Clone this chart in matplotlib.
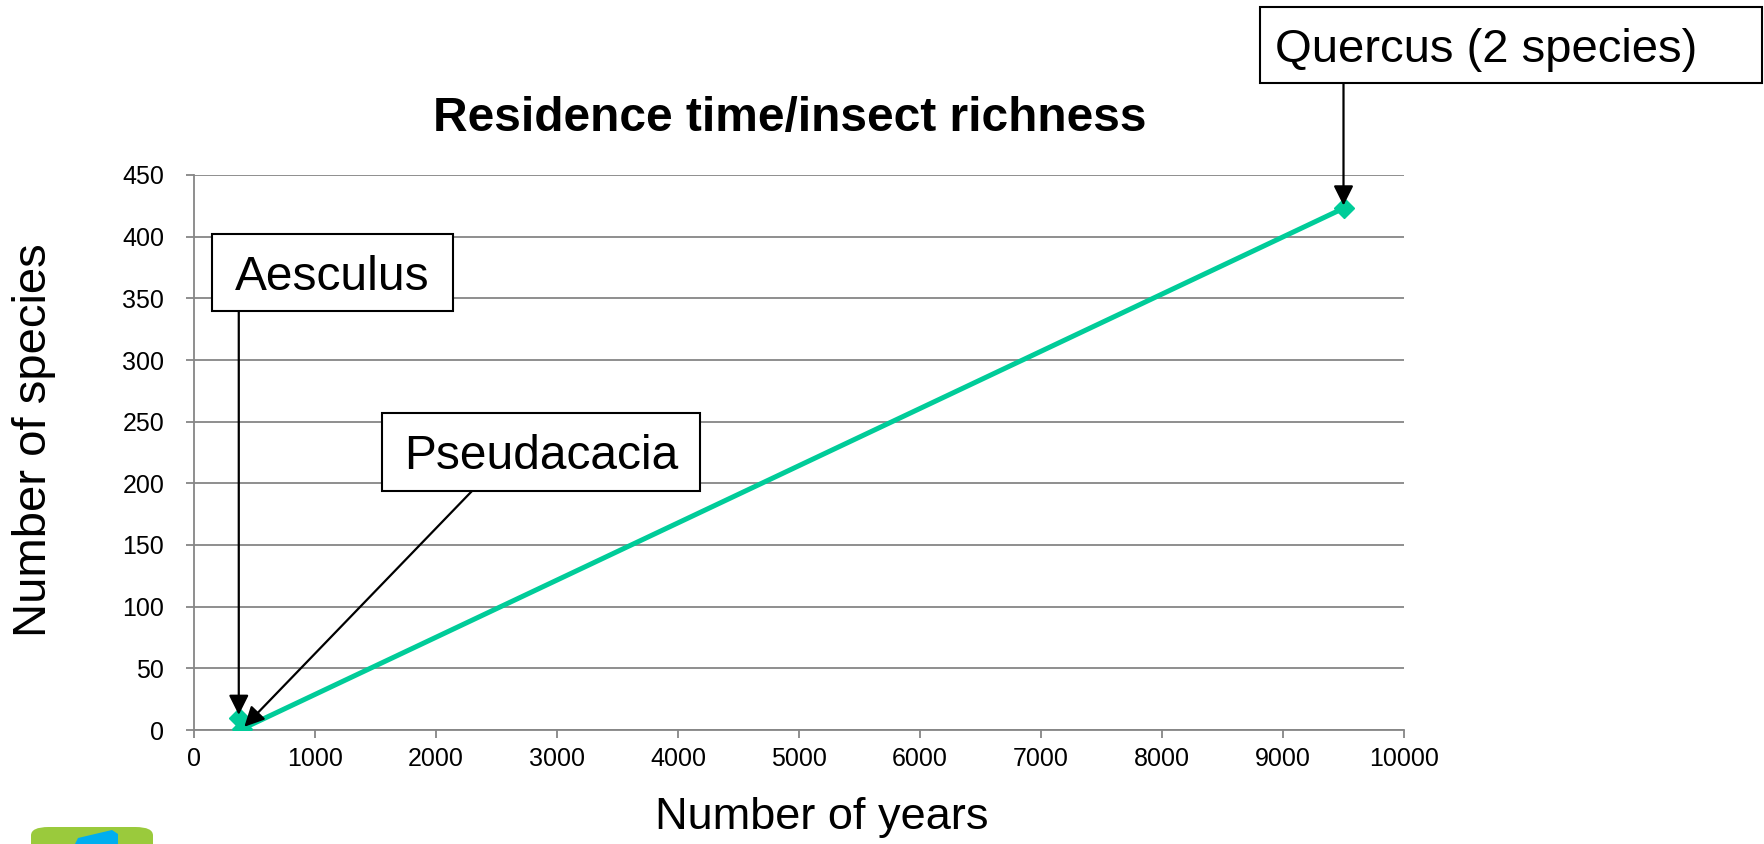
import matplotlib
matplotlib.use("Agg")
import matplotlib.pyplot as plt
from matplotlib.patches import Rectangle, FancyBboxPatch, Polygon

plt.rcParams["font.family"] = ["Liberation Sans", "DejaVu Sans"]

# Residence time (years) against associated insect species
genera = ["Aesculus", "Pseudacacia", "Quercus (2 species)"]
years = [370, 400, 9500]
species = [10, 1, 423]

x_ticks = list(range(0, 10001, 1000))
y_ticks = list(range(0, 451, 50))

W, H = 1764, 844
fig = plt.figure(figsize=(W / 100, H / 100), dpi=100)
fig.patch.set_facecolor("white")

ax = fig.add_axes([194 / W, 1 - 730 / H, 1210 / W, 555 / H])
ax.set_xlim(0, 10000)
ax.set_ylim(0, 450)
ax.set_xticks(x_ticks)
ax.set_yticks(y_ticks)
ax.tick_params(axis="both", labelsize=18, color="#868686", width=1.3,
               length=5.5, direction="out")
ax.tick_params(axis="x", pad=7)
ax.tick_params(axis="y", pad=16)
for side in ("top", "right"):
    ax.spines[side].set_visible(False)
for side in ("left", "bottom"):
    ax.spines[side].set_color("#868686")
    ax.spines[side].set_linewidth(1.3)
ax.yaxis.grid(True, color="#868686", linewidth=1.3)
ax.set_axisbelow(True)

green = "#00CC99"
ax.plot(years, species, color=green, linewidth=3.6, marker="D",
        markersize=10, markerfacecolor=green, markeredgecolor=green,
        solid_capstyle="butt", zorder=3)

fig.text(790 / W, 1 - 118 / H, "Residence time/insect richness",
         fontsize=34.5, fontweight="bold", ha="center", va="center")
fig.text(822 / W, 1 - 818 / H, "Number of years", fontsize=32.5,
         ha="center", va="center")
fig.text(34 / W, 1 - 440 / H, "Number of species", fontsize=34,
         ha="center", va="center", rotation=90)

# label boxes (left, top, right, bottom in pixels from top-left);
# leaders with a vertical drop start straight above their point
boxes = [(212, 234, 453, 311), (382, 413, 700, 491), (1260, 7, 1762, 83)]
text_left = [None, None, 1275]
leader_start = [None, 472, None]

for name, (l, t, r, b), tl, sx, xv, yv in zip(genera, boxes, text_left,
                                              leader_start, years, species):
    fig.patches.append(Rectangle((l / W, 1 - b / H), (r - l) / W, (b - t) / H,
                                 transform=fig.transFigure, facecolor="white",
                                 edgecolor="black", linewidth=1.5, zorder=5))
    ty = 1 - ((t + b) / 2 + 5) / H
    if tl is None:
        fig.text((l + r) / 2 / W, ty, name, fontsize=34.5,
                 ha="center", va="center", zorder=6)
    else:
        fig.text(tl / W, ty, name, fontsize=34,
                 ha="left", va="center", zorder=6)
    if sx is None:
        start, coords = (xv, 1 - b / H), ("data", "figure fraction")
    else:
        start, coords = (sx / W, 1 - b / H), "figure fraction"
    ax.annotate("", xy=(xv, yv), xycoords="data",
                xytext=start, textcoords=coords,
                arrowprops=dict(arrowstyle="-|>,head_length=0.6,head_width=0.3",
                                color="black", linewidth=1.6,
                                shrinkA=0, shrinkB=2, mutation_scale=20),
                zorder=6, annotation_clip=False)

# corner logo
fig.patches.append(FancyBboxPatch((31 / W, -20 / H), 122 / W, 37 / H,
                                  boxstyle="round,pad=0,rounding_size=0.01",
                                  transform=fig.transFigure,
                                  facecolor="#9ACA3C", edgecolor="none"))
fig.patches.append(Polygon([(75 / W, 0), (78 / W, 6 / H), (112 / W, 14 / H),
                            (118 / W, 10 / H), (118 / W, 0)],
                           closed=True, transform=fig.transFigure,
                           facecolor="#00AEEF", edgecolor="none"))

fig.savefig("out.png", dpi=100, facecolor="white")
